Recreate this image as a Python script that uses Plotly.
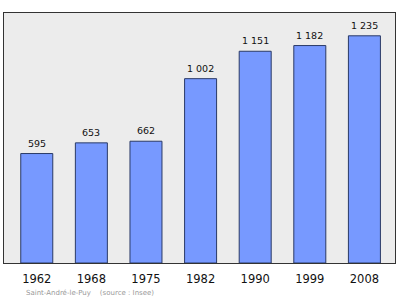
import plotly.graph_objects as go

years = ["1962", "1968", "1975", "1982", "1990", "1999", "2008"]
population = [595, 653, 662, 1002, 1151, 1182, 1235]
labels = [f"{v:,}".replace(",", " ") for v in population]
footer = "Saint-André-le-Puy    (source : Insee)"

fig = go.Figure()
fig.add_trace(go.Bar(
    x=list(range(len(years))), y=population,
    marker=dict(color="#7799ff", line=dict(color="#2a3a66", width=1)),
    width=0.586,
))
annotations = [dict(x=i, y=v, text=t, xref="x", yref="y", showarrow=False,
                    yanchor="bottom", yshift=3,
                    font=dict(family="DejaVu Sans", size=9.5, color="#111"))
               for i, (v, t) in enumerate(zip(population, labels))]
annotations.append(dict(text=footer, xref="paper", yref="paper", x=0.05, y=-0.12,
                        xanchor="left", yanchor="middle", showarrow=False,
                        font=dict(size=7, color="#999", family="DejaVu Sans")))
fig.update_layout(
    width=400, height=299,
    margin=dict(l=4, r=5, t=13, b=36),
    paper_bgcolor="white", plot_bgcolor="#ececec",
    showlegend=False,
    font=dict(family="DejaVu Sans", color="#111"),
    annotations=annotations,
)
fig.update_xaxes(range=[-0.6, 6.56], tickvals=list(range(len(years))), ticktext=years,
                 showgrid=False, zeroline=False, showline=True, mirror=True,
                 linecolor="#333", linewidth=1, ticks="outside", ticklen=5,
                 tickcolor="rgba(0,0,0,0)", tickfont=dict(size=11.5))
fig.update_yaxes(range=[0, 1359], showticklabels=False, showgrid=False, zeroline=False,
                 showline=True, mirror=True, linecolor="#333", linewidth=1)
fig.write_html("out.html")
